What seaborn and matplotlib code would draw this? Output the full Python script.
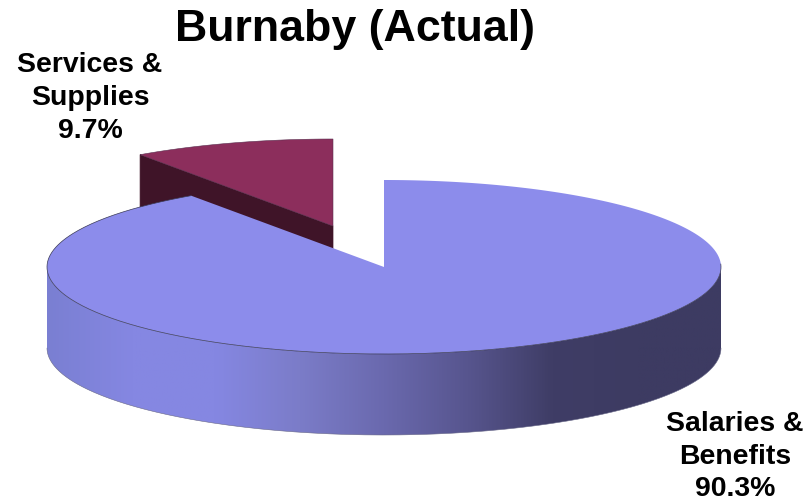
"""
Burnaby (Actual) 3D style pie chart
"""
import numpy as np
import matplotlib
matplotlib.use("Agg")
import matplotlib.pyplot as plt
from matplotlib.patches import Polygon
import seaborn as sns

categories = ["Salaries &\nBenefits", "Services &\nSupplies"]
shares = [90.3, 9.7]

TOP_COLOR = "#8C8CEB"
WEDGE_COLOR = "#8C2E5C"
WEDGE_SIDE = "#3F1428"
EDGE = "#3a3a55"

# pie geometry in pixels
CX, CY = 384, 267
RX, RY = 337, 87
DEPTH = 81
EXPLODE = (-51, -41)


def ring(start, stop, cx=CX, cy=CY, n=300):
    """Points on the ellipse, angle clockwise from twelve o'clock"""
    t = np.radians(np.linspace(start, stop, n))
    return np.column_stack([cx + RX * np.sin(t), cy - RY * np.cos(t)])


def main():
    sns.set_theme(style="white")
    plt.rcParams["font.family"] = ["Liberation Sans", "DejaVu Sans"]

    fig = plt.figure(figsize=(8.08, 5.01), dpi=100)
    ax = fig.add_axes([0, 0, 1, 1])
    ax.set_xlim(0, 808)
    ax.set_ylim(501, 0)
    ax.axis("off")

    sweep = 360 * shares[0] / sum(shares)

    # exploded small slice, drawn first so the big one covers it
    wx, wy = CX + EXPLODE[0], CY + EXPLODE[1]
    rim = ring(sweep, 360, wx, wy)
    ax.add_patch(Polygon([rim[0], (wx, wy), (wx, wy + DEPTH), rim[0] + (0, DEPTH)],
                         closed=True, fc=WEDGE_SIDE, ec=WEDGE_SIDE, lw=0.5, zorder=1))
    ax.add_patch(Polygon(np.vstack([[(wx, wy)], rim]), closed=True,
                         fc=WEDGE_COLOR, ec="#5a3050", lw=0.4, zorder=2))

    # side wall of the big slice with left to right shading
    front = ring(90, 270)
    wall = np.vstack([front, front[::-1] + (0, DEPTH)])
    wall_patch = Polygon(wall, closed=True, fc="none", ec="none", zorder=3)
    ax.add_patch(wall_patch)
    shade = sns.blend_palette(
        ["#7A7FD2", "#8587E2", "#8587E2", "#7B7CC8", "#6A69AE",
         "#57558E", "#3F3D66", "#3D3B62", "#3D3B62"],
        n_colors=256, as_cmap=True)
    grad = ax.imshow(np.linspace(0, 1, 256)[None, :], cmap=shade, aspect="auto",
                     extent=[CX - RX, CX + RX, CY + RY + DEPTH, CY - 5], zorder=3)
    grad.set_clip_path(wall_patch)
    ax.set_xlim(0, 808)
    ax.set_ylim(501, 0)
    ax.plot(*(front[::-1] + (0, DEPTH)).T, color="#6a6a8a", lw=0.4, zorder=4)

    # top face of the big slice
    top = np.vstack([[(CX, CY)], ring(0, sweep)])
    ax.add_patch(Polygon(top, closed=True, fc=TOP_COLOR, ec="none", zorder=5))
    ax.plot(*ring(88, sweep).T, color=EDGE, lw=0.5, zorder=6)

    ax.text(355, 29, "Burnaby (Actual)", ha="center", va="center",
            fontsize=32.2, fontweight="bold", color="black", zorder=7)
    ax.text(90, 98, f"{categories[1]}\n{shares[1]}%", ha="center", va="center",
            fontsize=20.4, fontweight="bold", linespacing=1.33, color="black", zorder=7)
    ax.text(735, 456.5, f"{categories[0]}\n{shares[0]}%", ha="center", va="center",
            fontsize=20.4, fontweight="bold", linespacing=1.33, color="black", zorder=7)

    fig.savefig("out.png", dpi=100, facecolor="white")
    plt.close(fig)


if __name__ == "__main__":
    main()
